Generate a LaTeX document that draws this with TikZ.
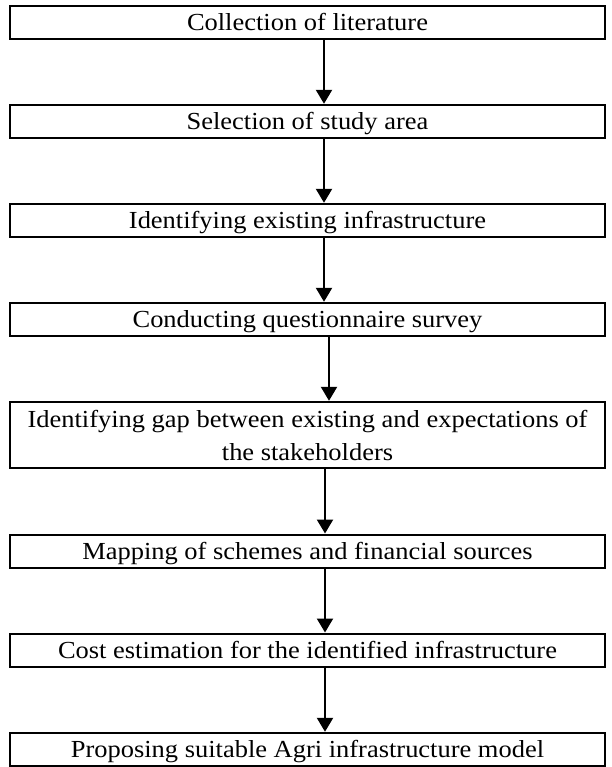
\documentclass[tikz,border=0pt]{standalone}
\usepackage{fontspec}
\setmainfont[FakeStretch=1.08]{Liberation Serif}
\usetikzlibrary{arrows.meta}
\tikzset{
  x=1pt, y=-1pt,
  stepbox/.style={draw=black, line width=2pt, minimum width=595pt, inner sep=0pt,
    font=\fontsize{24.5}{33}\selectfont, align=center},
  onebox/.style={stepbox, minimum height=33pt, text height=16.2pt, text depth=0pt},
  flow/.style={draw=black, line width=2.2pt, -{Triangle[length=14pt, width=16pt]}, shorten >=0.5pt}
}
\begin{document}
\begin{tikzpicture}
\useasboundingbox (0,0) rectangle (611,767);
\node[onebox] (b1) at (307.5,22.8) {Collection of literature};
\node[onebox] (b2) at (307.5,121.8) {Selection of study area};
\node[onebox] (b3) at (307.5,220.8) {Identifying existing infrastructure};
\node[onebox] (b4) at (307.5,319.8) {Conducting questionnaire survey};
\node[stepbox, minimum height=66pt] (b5) at (307.5,435.3) {Identifying gap between existing and expectations of\\ the stakeholders};
\node[onebox] (b6) at (307.5,551.5) {Mapping of schemes and financial sources};
\node[onebox] (b7) at (307.5,650.5) {Cost estimation for the identified infrastructure};
\node[onebox] (b8) at (307.5,749.8) {Proposing suitable Agri infrastructure model};
\coordinate (a1) at (324,0);
\coordinate (a4) at (329,0);
\coordinate (a5) at (325,0);
\draw[flow] (b1.south -| a1) -- (b2.north -| a1);
\draw[flow] (b2.south -| a1) -- (b3.north -| a1);
\draw[flow] (b3.south -| a1) -- (b4.north -| a1);
\draw[flow] (b4.south -| a4) -- (b5.north -| a4);
\draw[flow] (b5.south -| a5) -- (b6.north -| a5);
\draw[flow] (b6.south -| a5) -- (b7.north -| a5);
\draw[flow] (b7.south -| a5) -- (b8.north -| a5);
\end{tikzpicture}
\end{document}
